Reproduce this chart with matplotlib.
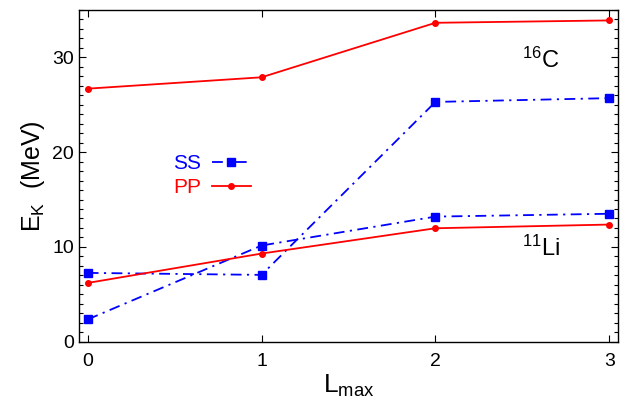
import matplotlib
matplotlib.use("Agg")
import matplotlib.pyplot as plt
from matplotlib.ticker import MultipleLocator

plt.rcParams['font.family'] = ['Liberation Sans', 'DejaVu Sans']
plt.rcParams['mathtext.fontset'] = 'custom'
plt.rcParams['mathtext.rm'] = 'Liberation Sans'
plt.rcParams['mathtext.it'] = 'Liberation Sans'

lmax = [0, 1, 2, 3]

# PP results
pp_c16 = [26.7, 27.9, 33.65, 33.9]
pp_li11 = [6.2, 9.3, 11.97, 12.36]

# SS results
ss_a = [7.26, 7.05, 25.3, 25.7]
ss_b = [2.35, 10.15, 13.2, 13.5]

fig = plt.figure(figsize=(6.24, 4.07), dpi=100)
ax = fig.add_axes([79/624, 1 - 341.7/407, (618-79)/624, (341.7-10)/407])

blue = '#0000ff'
red = '#ff0000'
dashdot = (0, (6, 3, 1.2, 3))

ax.plot(lmax, ss_a, color=blue, lw=1.3, ls=dashdot, marker='s', ms=5.5, label='SS')
ax.plot(lmax, ss_b, color=blue, lw=1.3, ls=dashdot, marker='s', ms=5.5)
ax.plot(lmax, pp_c16, color=red, lw=1.3, marker='o', ms=4, label='PP')
ax.plot(lmax, pp_li11, color=red, lw=1.3, marker='o', ms=4)

ax.set_xlim(-0.05, 3.05)
ax.set_ylim(0, 35)
ax.set_xticks(lmax)
ax.yaxis.set_major_locator(MultipleLocator(10))
ax.yaxis.set_minor_locator(MultipleLocator(1))
ax.tick_params(which='both', direction='in', top=True, right=True, labelsize=14)
ax.tick_params(which='major', length=5, width=0.8)
ax.tick_params(which='minor', length=3, width=0.8)
ax.tick_params(axis='x', pad=8)
for s in ax.spines.values():
    s.set_linewidth(1.0)

ax.set_xlabel(r'L$_{\rm max}$', fontsize=19, labelpad=2)
ax.set_ylabel(r'E$_{\rm K}$  (MeV)', fontsize=18, labelpad=4)

ax.text(2.5, 28.9, r'$^{16}$C', fontsize=17)
ax.text(2.5, 9.1, r'$^{11}$Li', fontsize=17)

leg = ax.legend(loc='upper left', bbox_to_anchor=(0.14, 0.622), frameon=False,
                markerfirst=False, handlelength=1.9, handletextpad=0.5,
                labelspacing=0.25, fontsize=15, labelcolor='linecolor')

fig.savefig('out.png', dpi=100)
